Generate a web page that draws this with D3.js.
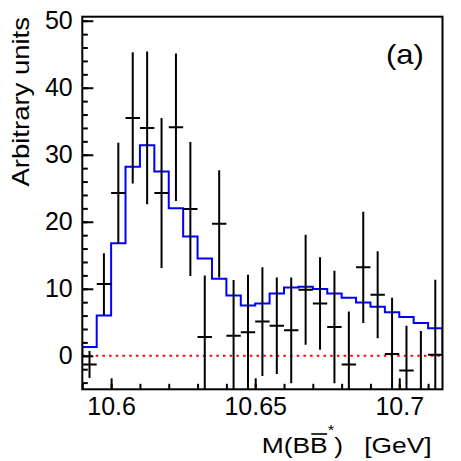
<!DOCTYPE html>
<html>
<head>
<meta charset="utf-8">
<script src="https://cdn.jsdelivr.net/npm/d3@7"></script>
<style>
  body { margin: 0; background: #fff; }
  text { font-family: "Liberation Sans", Arial, Helvetica, sans-serif; fill: #000; }
</style>
</head>
<body>
<div id="chart"></div>
<script>
'use strict'

// bin centres [GeV], bin width 5 MeV
const binCenters = [10.5925, 10.5975, 10.6025, 10.6075, 10.6125, 10.6175, 10.6225, 10.6275, 10.6325, 10.6375,
    10.6425, 10.6475, 10.6525, 10.6575, 10.6625, 10.6675, 10.6725, 10.6775, 10.6825, 10.6875,
    10.6925, 10.6975, 10.7025, 10.7075, 10.7125]
const binWidth = 0.005

// measured points and their errors
const dataValues = [-1.3, 10.7, 24.3, 35.5, 34.0, 24.3, 34.1, 21.9, 2.8, 19.7,
    3.0, 3.5, 5.1, 4.5, 3.8, 9.85, 7.8, 4.3, -1.3, 13.2,
    9.1, 0.25, -2.2, -6.0, 0.15]
const dataErrors = [2.0, 4.6, 7.5, 9.8, 11.4, 11.2, 11.0, 10.0, 9.2, 8.0,
    8.3, 8.6, 8.1, 7.2, 7.9, 8.2, 6.9, 8.4, 7.9, 8.3,
    6.5, 8.4, 6.7, 9.7, 11.2]

// fitted model (blue histogram)
const modelValues = [1.3, 6.0, 16.8, 28.2, 31.4, 27.5, 22.0, 17.8, 14.5, 11.5,
    9.0, 7.5, 7.8, 9.3, 10.2, 10.3, 9.95, 9.3, 8.65, 7.95,
    7.3, 6.5, 5.8, 4.9, 4.1]

// axis ticks
const xMajorTicks = [10.6, 10.65, 10.7]
const xMinorTicks = [10.59, 10.6, 10.61, 10.62, 10.63, 10.64, 10.65, 10.66, 10.67, 10.68, 10.69, 10.7, 10.71]
const yMajorTicks = [0, 10, 20, 30, 40, 50]
const yMinorTicks = [-4, -2, 0, 2, 4, 6, 8, 10, 12, 14, 16, 18, 20, 22, 24, 26, 28, 30,
    32, 34, 36, 38, 40, 42, 44, 46, 48, 50]

////////////////////////////////////
//////////// svg setup /////////////
////////////////////////////////////

const svgWidth = 461, svgHeight = 461
const margin = { left: 82.3, right: 18.5, top: 16.7, bottom: 71.7 }
const width = svgWidth - margin.left - margin.right
const height = svgHeight - margin.top - margin.bottom

const svg = d3.select('#chart')
    .append('svg')
    .attr('width', svgWidth)
    .attr('height', svgHeight)

const g = svg.append('g')
    .attr('transform', `translate(${margin.left},${margin.top})`)

g.append('clipPath').attr('id', 'plot-clip')
    .append('rect').attr('width', width).attr('height', height)

////////////////////////////////////
//////////// scales ////////////////
////////////////////////////////////

const x = d3.scaleLinear().domain([10.59, 10.715]).range([0, width])
const y = d3.scaleLinear().domain([-5, 50.6]).range([height, 0])

const plot = g.append('g').attr('clip-path', 'url(#plot-clip)')

// zero line
plot.append('line')
    .attr('x1', 0).attr('x2', width)
    .attr('y1', y(0)).attr('y2', y(0))
    .style('stroke', '#ff0000')
    .style('stroke-width', 2)
    .style('stroke-dasharray', '2.5,4.2')

// model histogram
const stepPts = [[binCenters[0] - binWidth / 2, 0]]
binCenters.forEach((c, i) => stepPts.push([c - binWidth / 2, modelValues[i]]))
const last = binCenters.length - 1
stepPts.push([binCenters[last] + binWidth / 2, modelValues[last]])
stepPts.push([binCenters[last] + binWidth / 2, 0])

plot.append('path')
    .datum(stepPts)
    .attr('d', d3.line().x(d => x(d[0])).y(d => y(d[1])).curve(d3.curveStepAfter))
    .style('fill', 'none')
    .style('stroke', '#0000ff')
    .style('stroke-width', 2)

// data points with errors
const pts = plot.selectAll('.pt')
    .data(binCenters.map((c, i) => ({ c: c, v: dataValues[i], e: dataErrors[i] })))
    .enter().append('g').attr('class', 'pt')

pts.append('line')
    .attr('x1', d => x(d.c)).attr('x2', d => x(d.c))
    .attr('y1', d => y(d.v + d.e)).attr('y2', d => y(d.v - d.e))
    .style('stroke', '#000').style('stroke-width', 2)

pts.append('line')
    .attr('x1', d => x(d.c - binWidth / 2)).attr('x2', d => x(d.c + binWidth / 2))
    .attr('y1', d => y(d.v)).attr('y2', d => y(d.v))
    .style('stroke', '#000').style('stroke-width', 2)

////////////////////////////////////
//////////// axes //////////////////
////////////////////////////////////

function styleAxis(sel) {
    sel.select('.domain').remove()
    sel.selectAll('line').style('stroke', '#000').style('stroke-width', 2)
    sel.selectAll('text').style('font-size', '25px')
        .style('font-family', '"Liberation Sans", Arial, Helvetica, sans-serif')
}

g.append('g')
    .attr('transform', `translate(0,${height})`)
    .call(d3.axisBottom(x).tickValues(xMinorTicks).tickSize(-5.5).tickFormat(''))
    .call(styleAxis)

g.append('g')
    .attr('transform', `translate(0,${height})`)
    .call(d3.axisBottom(x).tickValues(xMajorTicks).tickSize(-11).tickPadding(8)
        .tickFormat(d3.format('')))
    .call(styleAxis)

g.append('g')
    .call(d3.axisLeft(y).tickValues(yMinorTicks).tickSize(-5.5).tickFormat(''))
    .call(styleAxis)

g.append('g')
    .call(d3.axisLeft(y).tickValues(yMajorTicks).tickSize(-11).tickPadding(9.6))
    .call(styleAxis)

// frame
g.append('rect')
    .attr('width', width).attr('height', height)
    .style('fill', 'none').style('stroke', '#000').style('stroke-width', 2)

////////////////////////////////////
//////////// labels ////////////////
////////////////////////////////////

// y title
svg.append('text')
    .attr('transform', 'translate(28.5,17) rotate(-90) scale(1.17,1)')
    .attr('text-anchor', 'end')
    .style('font-size', '23.5px')
    .text('Arbitrary units')

// x title : M(B Bbar^*)  [GeV]
const xt = svg.append('g').attr('transform', 'translate(261.7,453) scale(1.2,1)')
const xtText = xt.append('text').style('font-size', '22px')
xtText.append('tspan').text('M(B')
xtText.append('tspan').text('B')
xtText.append('tspan').attr('dy', -18).style('font-size', '14px').text('*')
xtText.append('tspan').attr('dy', 18).text(')')

const node = xtText.node()
const b0 = node.getStartPositionOfChar(3).x
const b1 = node.getEndPositionOfChar(3).x
xt.append('line')
    .attr('x1', b0 + 1).attr('x2', b1 - 0.5)
    .attr('y1', -19).attr('y2', -19)
    .style('stroke', '#000').style('stroke-width', 1.6)

svg.append('g').attr('transform', 'translate(431.7,453) scale(1.2,1)')
    .append('text')
    .attr('text-anchor', 'end')
    .style('font-size', '22px')
    .text('[GeV]')

// panel label
svg.append('g').attr('transform', 'translate(386,63.5) scale(1.15,1)')
    .append('text')
    .style('font-size', '27px')
    .text('(a)')
</script>
</body>
</html>
